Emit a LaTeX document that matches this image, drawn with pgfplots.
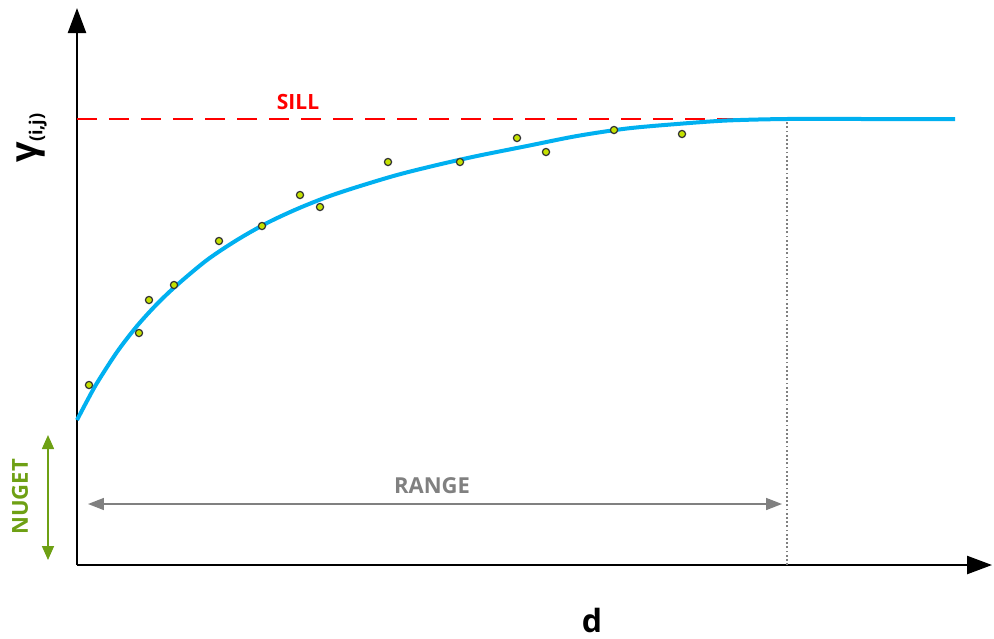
\documentclass[border=0pt]{standalone}
\usepackage{fontspec}
\setmainfont{Open Sans}
\usepackage{pgfplots}
\pgfplotsset{compat=1.18}
\usetikzlibrary{arrows.meta}
\definecolor{curveblue}{RGB}{0,176,240}
\definecolor{sillred}{RGB}{255,0,0}
\definecolor{nugetgreen}{RGB}{110,160,20}
\definecolor{rangegray}{RGB}{128,128,128}
\definecolor{ptfill}{RGB}{196,225,0}
\begin{document}
\begin{tikzpicture}
\begin{axis}[
  scale only axis, width=457.5pt, height=278.5pt,
  xmin=0, xmax=915, ymin=0, ymax=557,
  axis lines=left,
  axis line style={line width=1.2pt, black, -{Triangle[length=12.5pt,width=9pt]}},
  xtick=\empty, ytick=\empty,
  clip=false,
]
% invisible bounding box
\path (axis cs:-77,-69) rectangle (axis cs:917,565);
% sill
\addplot[sillred, line width=1pt, dash pattern=on 10pt off 6pt] coordinates {(0,446) (710,446)};
% range dotted line
\addplot[rangegray, line width=0.9pt, dash pattern=on 0.9pt off 1.2pt] coordinates {(710,0) (710,446)};
% model curve
\addplot[curveblue, line width=2pt, smooth] coordinates {
(0,145) (10,164) (20,182) (40,213) (60,239) (80,261) (100,280) (130,305) (160,325)
(190,342) (220,356) (250,368) (280,378) (320,390) (360,400) (400,409)
(450,419) (500,429) (550,436.5) (600,441) (650,444.5) (710,446) (790,446) (878,446)};
% experimental points
\addplot[only marks, mark=*, mark size=1.8pt, mark options={fill=ptfill, draw=black!80, line width=0.6pt}] coordinates {
(12,180) (62,232) (72,265) (97,280) (142,324) (185,339) (223,370) (243,358)
(311,403) (383,403) (440,427) (469,413) (537,435) (605,431)};
% range arrow
\draw[rangegray, line width=0.8pt, {Triangle[length=8pt,width=6pt]}-{Triangle[length=8pt,width=6pt]}] (axis cs:11,61) -- (axis cs:705,61);
\node[rangegray, font=\fontsize{11}{11}\selectfont\bfseries] at (axis cs:355,79) {RANGE};
% nugget arrow
\draw[nugetgreen, line width=0.8pt, {Triangle[length=7pt,width=6pt]}-{Triangle[length=7pt,width=6pt]}] (axis cs:-29,130) -- (axis cs:-29,5);
\node[nugetgreen, rotate=90, font=\fontsize{11}{11}\selectfont\bfseries] at (axis cs:-57,68) {NUGET};
% sill label
\node[sillred, font=\fontsize{10.5}{10.5}\selectfont\bfseries] at (axis cs:221,463) {SILL};
% axis labels
\node[font=\fontsize{16}{16}\selectfont\bfseries] at (axis cs:515,-55) {d};
\node[rotate=90, anchor=base, inner sep=0pt] at (axis cs:-40,427) {\fontsize{18}{18}\selectfont\bfseries γ\raisebox{-0.15em}{\fontsize{9}{9}\selectfont\bfseries(i,j)}};
\end{axis}
\end{tikzpicture}
\end{document}
